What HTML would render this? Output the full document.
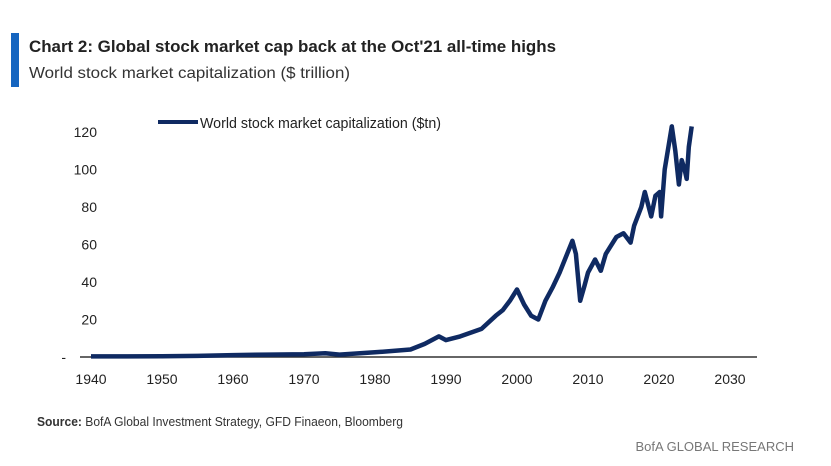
<!DOCTYPE html>
<html><head><meta charset="utf-8"><style>
body{margin:0;width:831px;height:466px;background:#fff;font-family:"Liberation Sans",sans-serif;overflow:hidden}
</style></head><body>
<svg width="831" height="466" style="position:absolute;left:0;top:0">
<rect x="11" y="33" width="8" height="54" fill="#1565c0"/>
<text x="29" y="52" font-size="17" font-weight="bold" fill="#222" textLength="527" lengthAdjust="spacingAndGlyphs">Chart 2: Global stock market cap back at the Oct'21 all-time highs</text>
<text x="29" y="78" font-size="16" fill="#333" textLength="321" lengthAdjust="spacingAndGlyphs">World stock market capitalization ($ trillion)</text>
<line x1="158" y1="122" x2="198" y2="122" stroke="#0f2a62" stroke-width="4"/>
<text x="200" y="128" font-size="15" fill="#222" textLength="241" lengthAdjust="spacingAndGlyphs">World stock market capitalization ($tn)</text>
<g id="yax"></g>
<g id="xax"></g>
<line x1="80" y1="357" x2="757" y2="357" stroke="#333" stroke-width="1.5"/>
<path id="series" fill="none" stroke="#0f2a62" stroke-width="4.5" stroke-linejoin="round"/>
<text x="37" y="426" font-size="13" fill="#333" textLength="366" lengthAdjust="spacingAndGlyphs"><tspan font-weight="bold">Source:</tspan> BofA Global Investment Strategy, GFD Finaeon, Bloomberg</text>
<text x="794" y="451" font-size="13" fill="#777" text-anchor="end">BofA GLOBAL RESEARCH</text>
</svg>
<script>
const years=[1940,1950,1955,1960,1965,1970,1973,1975,1980,1985,1987,1989,1990,1992,1995,1997,1998,1999,2000,2001,2002,2003,2004,2005,2006,2007.8,2008.3,2008.9,2009.5,2010,2011,2011.8,2012.5,2013,2014,2015,2016,2016.5,2017.5,2018,2018.9,2019.5,2020.1,2020.3,2020.8,2021.8,2022.3,2022.8,2023.2,2023.6,2023.9,2024.2,2024.6];
const values=[0.3,0.4,0.6,1,1.3,1.5,2,1.3,2.5,4,7,11,9,11,15,22,25,30,36,28,22,20,30,37,45,62,55,30,38,45,52,46,55,58,64,66,61,70,80,88,75,86,88,75,100,123,110,92,105,100,95,112,123];
const yTicks=[0,20,40,60,80,100,120];
const yTickLabels=["-","20","40","60","80","100","120"];
const xTicks=[1940,1950,1960,1970,1980,1990,2000,2010,2020,2030];
const ns="http://www.w3.org/2000/svg";
const xs=y=>91+(y-1940)*7.1;
const ys=v=>357-v*1.875;
const ya=document.getElementById('yax'),xa=document.getElementById('xax');
yTicks.forEach((t,i)=>{const e=document.createElementNS(ns,'text');


e.setAttribute('x',i==0?66:97);e.setAttribute('y',ys(t)+5);e.setAttribute('font-size','14');e.setAttribute('fill','#222');e.setAttribute('text-anchor','end');e.textContent=yTickLabels[i];ya.appendChild(e);});
xTicks.forEach(t=>{const e=document.createElementNS(ns,'text');


e.setAttribute('x',xs(t));e.setAttribute('y',384);e.setAttribute('font-size','14');e.setAttribute('fill','#222');e.setAttribute('text-anchor','middle');e.textContent=t;xa.appendChild(e);});
document.getElementById('series').setAttribute('d',years.map((y,i)=>(i?'L':'M')+xs(y).toFixed(1)+','+ys(values[i]).toFixed(1)).join(''));
</script>
</body></html>
